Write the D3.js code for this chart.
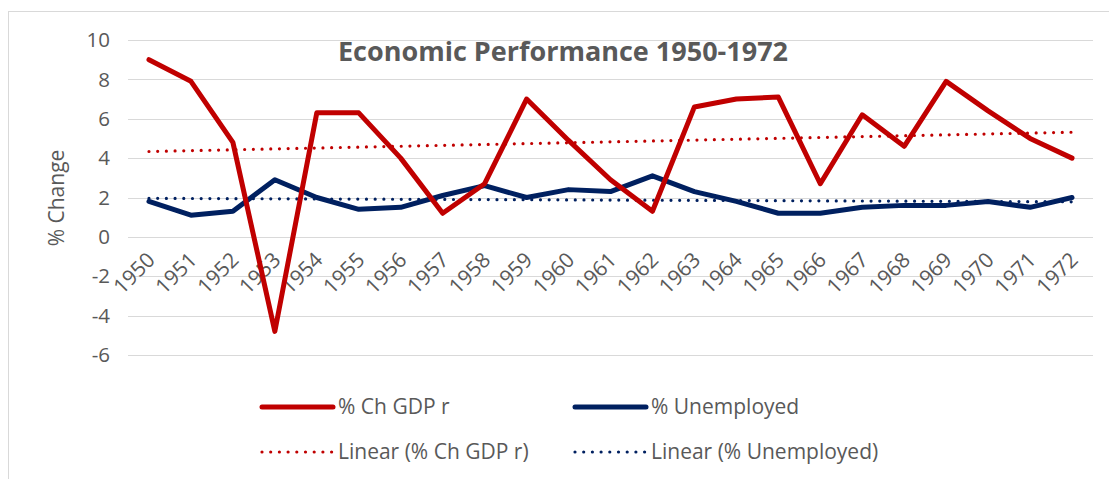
<!DOCTYPE html>
<html>
<head>
<meta charset="utf-8">
<script src="https://cdn.jsdelivr.net/npm/d3@7"></script>
<style>
  body { margin: 0; background: #fff; }
  text { font-family: "Open Sans", sans-serif; fill: #595959; }
</style>
</head>
<body>
<div class="chart"></div>
<script>
const years = ["1950","1951","1952","1953","1954","1955","1956","1957","1958","1959","1960",
  "1961","1962","1963","1964","1965","1966","1967","1968","1969","1970","1971","1972"];
const gdpChange = [9.0, 7.9, 4.8, -4.8, 6.3, 6.3, 4.0, 1.2, 2.7, 7.0, 4.9,
  2.9, 1.3, 6.6, 7.0, 7.1, 2.7, 6.2, 4.6, 7.9, 6.4, 5.0, 4.0];
const unemployed = [1.8, 1.1, 1.3, 2.9, 2.0, 1.4, 1.5, 2.1, 2.6, 2.0, 2.4,
  2.3, 3.1, 2.3, 1.8, 1.2, 1.2, 1.5, 1.6, 1.6, 1.8, 1.5, 2.0];
const yTicks = [-6, -4, -2, 0, 2, 4, 6, 8, 10];

const red = "#c00000", navy = "#002060";
const W = 1109, H = 479;

const svg = d3.select(".chart").append("svg")
  .attr("width", W)
  .attr("height", H);

// chart frame
svg.append("rect")
  .attr("x", 8.5).attr("y", 11.5)
  .attr("width", 1200).attr("height", 600)
  .attr("fill", "none")
  .attr("stroke", "#d9d9d9");

const x = d3.scaleBand().domain(years).range([128, 1093]);
const y = d3.scaleLinear().domain([-6, 10]).range([355, 40]);
const cx = d => x(d) + x.bandwidth() / 2;

// gridlines + y labels
svg.append("g").selectAll("line")
  .data(yTicks).enter().append("line")
  .attr("x1", 128).attr("x2", 1093)
  .attr("y1", d => Math.round(y(d)) + 0.5)
  .attr("y2", d => Math.round(y(d)) + 0.5)
  .attr("stroke", "#d9d9d9");

svg.append("g").selectAll("text")
  .data(yTicks).enter().append("text")
  .attr("x", 110)
  .attr("y", d => y(d))
  .attr("dy", "0.35em")
  .attr("text-anchor", "end")
  .style("font-size", "20.5px")
  .text(d => d);

// x labels, rotated
svg.append("g").selectAll("text")
  .data(years).enter().append("text")
  .attr("transform", d => "translate(" + (cx(d) + 2) + ",256) rotate(-45)")
  .attr("dy", "0.35em")
  .attr("text-anchor", "end")
  .style("font-size", "21px")
  .text(d => d);

// axis title
svg.append("text")
  .attr("transform", "translate(57,198) rotate(-90)")
  .attr("dy", "0.35em")
  .attr("text-anchor", "middle")
  .style("font-size", "21px")
  .text("% Change");

// linear trend (least squares, like Excel)
function trend(vals) {
  const n = vals.length, mi = (n - 1) / 2, mv = d3.mean(vals);
  const slope = d3.sum(vals, (v, i) => (i - mi) * (v - mv)) / d3.sum(vals, (v, i) => (i - mi) * (i - mi));
  return [[0, mv - slope * mi], [n - 1, mv + slope * (n - 1 - mi)]];
}

const dotted = "0 8.7";

[[gdpChange, red], [unemployed, navy]].forEach(([vals, col]) => {
  svg.append("path")
    .datum(trend(vals))
    .attr("d", d3.line().x(d => cx(years[d[0]])).y(d => y(d[1])))
    .attr("fill", "none")
    .attr("stroke", col)
    .attr("stroke-width", 3.2)
    .attr("stroke-linecap", "round")
    .attr("stroke-dasharray", dotted);
});

const line = d3.line().x((d, i) => cx(years[i])).y(d => y(d));

svg.append("path")
  .datum(unemployed)
  .attr("d", line)
  .attr("fill", "none")
  .attr("stroke", navy)
  .attr("stroke-width", 5)
  .attr("stroke-linejoin", "round")
  .attr("stroke-linecap", "round");

svg.append("path")
  .datum(gdpChange)
  .attr("d", line)
  .attr("fill", "none")
  .attr("stroke", red)
  .attr("stroke-width", 5)
  .attr("stroke-linejoin", "round")
  .attr("stroke-linecap", "round");

// title
svg.append("text")
  .attr("x", 563).attr("y", 52)
  .attr("dy", "0.35em")
  .attr("text-anchor", "middle")
  .style("font-size", "27px")
  .style("font-weight", "bold")
  .text("Economic Performance 1950-1972");

// legend
const legend = [
  { label: "% Ch GDP r", color: red, dash: null, x: 262, y: 407 },
  { label: "% Unemployed", color: navy, dash: null, x: 575, y: 407 },
  { label: "Linear (% Ch GDP r)", color: red, dash: dotted, x: 262, y: 452 },
  { label: "Linear (% Unemployed)", color: navy, dash: dotted, x: 575, y: 452 }
];

const lg = svg.append("g").selectAll("g")
  .data(legend).enter().append("g")
  .attr("transform", d => "translate(" + d.x + "," + d.y + ")");

lg.append("line")
  .attr("x1", 0).attr("x2", 71)
  .attr("stroke", d => d.color)
  .attr("stroke-width", d => d.dash ? 3.2 : 5)
  .attr("stroke-linecap", "round")
  .attr("stroke-dasharray", d => d.dash);

lg.append("text")
  .attr("x", 76)
  .attr("dy", "0.35em")
  .style("font-size", "21px")
  .text(d => d.label);
</script>
</body>
</html>
